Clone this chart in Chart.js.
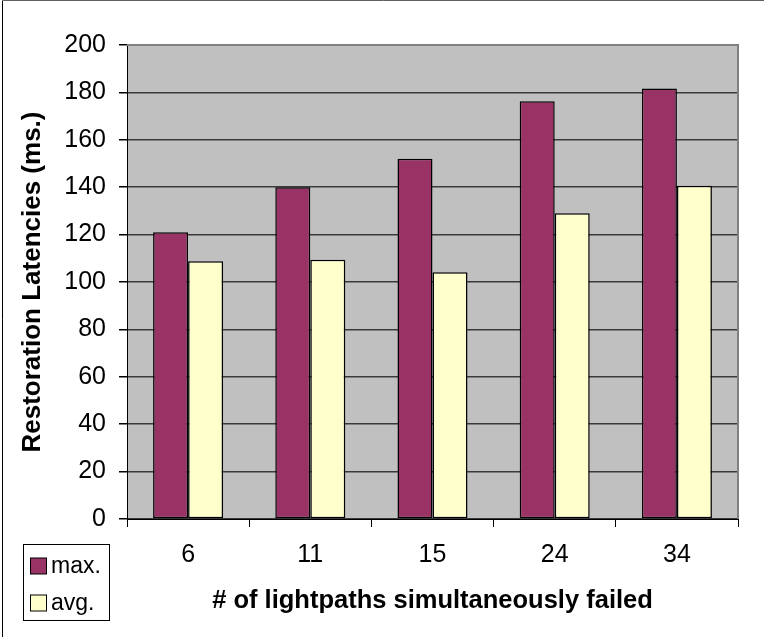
<!DOCTYPE html>
<html>
<head>
<meta charset="utf-8">
<script src="https://cdn.jsdelivr.net/npm/chart.js@4"></script>
<style>
  html, body { margin: 0; padding: 0; background: #ffffff; }
  canvas { display: block; }
</style>
</head>
<body>
<canvas id="c" width="764" height="637"></canvas>
<script>
const categories = ['6', '11', '15', '24', '34'];
const maxValues = [121, 140, 152, 176.3, 181.6];
const avgValues = [108.8, 109.4, 104.1, 129, 140.6];
const seriesNames = ['max.', 'avg.'];
const yTitle = 'Restoration Latencies (ms.)';
const xTitle = '# of lightpaths simultaneously failed';

const FONT = "'Liberation Sans', Arial, sans-serif";

const framePlugin = {
  id: 'frame',
  beforeDraw(chart) {
    const { ctx, chartArea: a } = chart;
    ctx.save();
    ctx.fillStyle = '#ffffff';
    ctx.fillRect(0, 0, chart.width, chart.height);
    ctx.fillStyle = '#C0C0C0';
    ctx.fillRect(a.left, a.top, a.right - a.left, a.bottom - a.top);
    ctx.restore();
  },
  beforeDatasetsDraw(chart) {
    const { ctx, chartArea: a } = chart;
    ctx.save();
    ctx.strokeStyle = '#808080';
    ctx.lineWidth = 2;
    ctx.beginPath();
    ctx.moveTo(a.left, a.top);
    ctx.lineTo(a.right, a.top);
    ctx.lineTo(a.right, a.bottom);
    ctx.stroke();
    ctx.restore();
  },
  afterDraw(chart) {
    const { ctx } = chart;
    ctx.save();
    // outer chart border (top and left visible)
    ctx.strokeStyle = '#606060';
    ctx.lineWidth = 1;
    ctx.beginPath();
    ctx.moveTo(2.5, chart.height + 5);
    ctx.lineTo(2.5, 0.5);
    ctx.lineTo(chart.width + 5, 0.5);
    ctx.stroke();
    ctx.strokeStyle = '#000000';
    ctx.beginPath();
    ctx.moveTo(2.5, chart.height + 5);
    ctx.lineTo(2.5, 1);
    ctx.stroke();

    // legend box
    const bx = 23.5, by = 544.5, bw = 86, bh = 76;
    ctx.strokeStyle = '#000000';
    ctx.lineWidth = 1;
    ctx.strokeRect(bx, by, bw, bh);
    ctx.font = '23px ' + FONT;
    ctx.textBaseline = 'middle';
    ctx.textAlign = 'left';
    const rows = [566, 603];
    chart.data.datasets.forEach((ds, i) => {
      const cy = rows[i];
      ctx.fillStyle = ds.backgroundColor;
      ctx.fillRect(30.5, cy - 8, 16, 16);
      ctx.strokeStyle = '#000000';
      ctx.lineWidth = 1;
      ctx.strokeRect(30.5, cy - 8, 16, 16);
      ctx.fillStyle = '#000000';
      ctx.fillText(ds.label, 51, cy + 1);
    });
    ctx.restore();
  }
};

new Chart(document.getElementById('c'), {
  type: 'bar',
  data: {
    labels: categories,
    datasets: [
      {
        label: seriesNames[0],
        data: maxValues,
        backgroundColor: '#993366',
        borderColor: '#000000',
        borderWidth: 1.5,
        borderSkipped: false
      },
      {
        label: seriesNames[1],
        data: avgValues,
        backgroundColor: '#FFFFCC',
        borderColor: '#000000',
        borderWidth: 1.5,
        borderSkipped: false
      }
    ]
  },
  options: {
    responsive: false,
    animation: false,
    devicePixelRatio: 1,
    layout: { padding: { top: 45, right: 26, left: 0, bottom: 0 } },
    datasets: {
      bar: { categoryPercentage: 0.573, barPercentage: 1.0 }
    },
    plugins: {
      legend: { display: false },
      tooltip: { enabled: false },
      title: { display: false }
    },
    scales: {
      x: {
        offset: true,
        afterFit(scale) { scale.height = 118; },
        grid: {
          offset: true,
          drawOnChartArea: false,
          drawTicks: true,
          tickLength: 8,
          tickColor: '#000000',
          color: '#000000'
        },
        border: { display: true, color: '#000000', width: 1 },
        ticks: {
          color: '#000000',
          font: { family: FONT, size: 25 },
          padding: 13,
          maxRotation: 0
        },
        title: {
          display: true,
          text: xTitle,
          color: '#000000',
          font: { family: FONT, size: 25.5, weight: 'bold' },
          padding: { top: 0, bottom: 21 }
        }
      },
      y: {
        min: 0,
        max: 200,
        afterFit(scale) { scale.width = 127; },
        grid: {
          color: '#3a3a3a',
          lineWidth: 1.5,
          drawTicks: true,
          tickLength: 8,
          tickColor: '#000000'
        },
        border: { display: true, color: '#000000', width: 1 },
        ticks: {
          stepSize: 20,
          color: '#000000',
          font: { family: FONT, size: 25 },
          padding: 13
        },
        title: {
          display: true,
          text: yTitle,
          color: '#000000',
          font: { family: FONT, size: 26, weight: 'bold' },
          padding: { top: 17, bottom: 0 }
        }
      }
    }
  },
  plugins: [framePlugin]
});
</script>
</body>
</html>
